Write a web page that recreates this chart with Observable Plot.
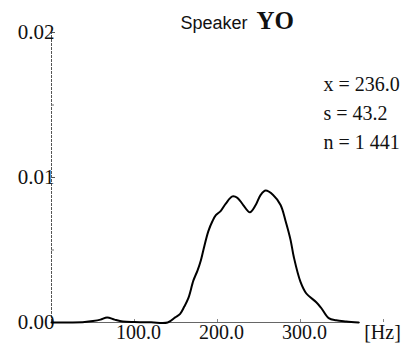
<!DOCTYPE html>
<html>
<head>
<meta charset="utf-8">
<script src="https://cdn.jsdelivr.net/npm/d3@7"></script>
<script src="https://cdn.jsdelivr.net/npm/@observablehq/plot@0.6"></script>
<style>
  html, body { margin: 0; padding: 0; background: #fff; }
  #chart { width: 406px; height: 343px; }
</style>
</head>
<body>
<div id="chart"></div>
<script>
// Frequency (Hz) and estimated density
const hz = [0, 25, 40, 50, 59, 67, 76, 86, 100, 120, 140, 149, 155, 160, 165, 171, 176, 180, 183, 189, 194, 198, 204, 210, 218, 224, 231, 239, 246, 252, 258, 267, 276, 282, 288, 292, 300, 307, 319, 325, 334, 343, 355, 370];
const density = [0, 0, 0.00003, 0.0001, 0.0002, 0.00035, 0.0002, 0.00007, 0.00003, 0.00001, 0, 0.00035, 0.0006, 0.0011, 0.0017, 0.0029, 0.0036, 0.0043, 0.005, 0.0063, 0.007, 0.0074, 0.0077, 0.0082, 0.0087, 0.0086, 0.0081, 0.0076, 0.0081, 0.0088, 0.0091, 0.0088, 0.0081, 0.007, 0.0057, 0.0045, 0.0028, 0.002, 0.0014, 0.001, 0.0003, 0.00015, 0.00007, 0];

const yTicks = [0, 0.01, 0.02];
const yMinorTicks = [0.005, 0.015];
const xTicks = [100, 200, 300];
const xTickLabels = ["100.0", "200.0", "300.0"];
const unitTick = [400];
const unitLabel = ["[Hz]"];
const titleWord = ["Speaker"];
const titleName = ["YO"];
const stats = ["x = 236.0", "s = 43.2", "n = 1 441"];

const curve = hz.map((h, i) => ({hz: h, d: density[i]}));
const serif = "'Liberation Serif', 'DejaVu Serif', serif";
const sans = "'Liberation Sans', Arial, sans-serif";

const plot = Plot.plot({
  width: 406,
  height: 343,
  marginLeft: 51,
  marginRight: 23,
  marginTop: 32,
  marginBottom: 21,
  style: {fontFamily: serif, fontSize: "20px", color: "#111", background: "#fff", overflow: "visible"},
  x: {domain: [0, 400]},
  y: {domain: [0, 0.02]},
  marks: [
    // y axis line (dotted, thin)
    Plot.ruleX([0], {y1: 0, y2: 0.02, stroke: "#555", strokeWidth: 1, strokeDasharray: "3,1"}),
    // x axis line
    Plot.ruleY([0], {x1: 0, x2: 372, stroke: "#666", strokeWidth: 1}),
    Plot.axisY({ticks: yTicks, tickSize: -4, tickFormat: d3.format(".2f"), tickPadding: 1, label: null, fontSize: 21, stroke: "#555"}),
    Plot.axisY({ticks: yMinorTicks, tickSize: -3, tickFormat: () => "", label: null, stroke: "#777"}),
    Plot.axisX({ticks: xTicks.concat(unitTick), tickSize: -3, tickFormat: () => "", label: null, stroke: "#888"}),
    Plot.text(xTicks, {x: d => d, text: (d, i) => xTickLabels[i], frameAnchor: "bottom", dx: 4, dy: 16, lineAnchor: "bottom", fontSize: 20, fill: "#111"}),
    Plot.text(unitTick, {x: d => d, text: (d, i) => unitLabel[i], frameAnchor: "bottom", dx: -1, dy: 16, lineAnchor: "bottom", fontSize: 20, fill: "#111"}),
    // density curve
    Plot.line(curve, {x: "hz", y: "d", stroke: "#000", strokeWidth: 2, curve: "catmull-rom"}),
    // title
    Plot.text(titleWord, {frameAnchor: "top-left", text: d => d, dx: 129, dy: -4, lineAnchor: "bottom", textAnchor: "start", fontFamily: sans, fontSize: 18, fill: "#111"}),
    Plot.text(titleName, {frameAnchor: "top-left", text: d => d, dx: 205, dy: -4, lineAnchor: "bottom", textAnchor: "start", fontFamily: serif, fontWeight: "bold", fontSize: 25, fill: "#111"}),
    // statistics
    Plot.text([stats.join("\n")], {frameAnchor: "top-left", text: d => d, dx: 272, dy: 38, lineAnchor: "top", textAnchor: "start", lineHeight: 1.45, fontSize: 20, fill: "#111"})
  ]
});
document.getElementById("chart").appendChild(plot);
</script>
</body>
</html>
